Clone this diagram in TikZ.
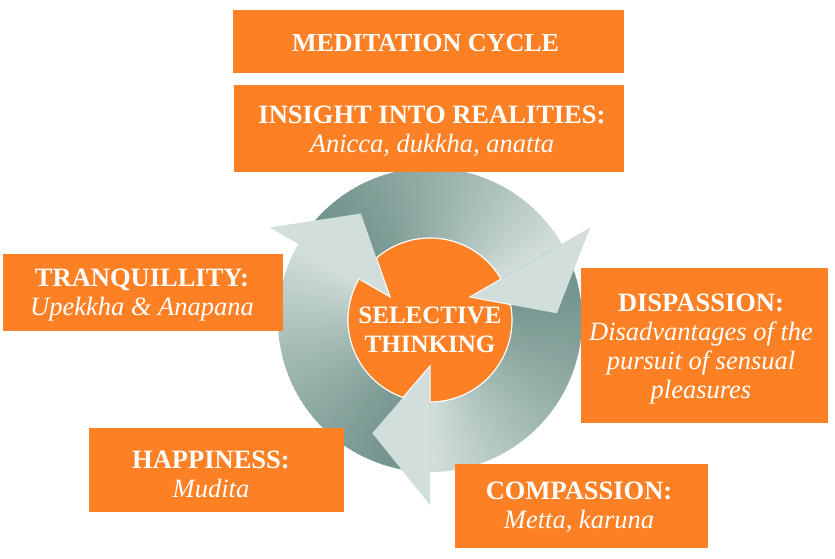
\documentclass[tikz,border=0pt]{standalone}
\usepackage{fontspec}
\setmainfont{Liberation Serif}
\definecolor{tangerine}{HTML}{FD8025}
\definecolor{sagedark}{HTML}{6E9189}
\definecolor{sagelight}{HTML}{D2DEDB}

\begin{document}
\begin{tikzpicture}[x=1pt,y=-1pt,
    panel/.style={fill=tangerine,inner sep=0pt},
    caption/.style={text=white,align=center,anchor=base,
                    font=\fontsize{26.5}{29}\selectfont}]
  \useasboundingbox (0,0) rectangle (835,559);

  % the cycle: three arrow bands, centre disc, arrow heads
  \begin{scope}[shift={(430,320)},yscale=-1]
    \foreach \s in {150,30,-90}{
      \foreach \i in {0,...,59}{
        \pgfmathsetmacro\a{\s-2*\i}
        \pgfmathsetmacro\b{\s-2*\i-3}
        \pgfmathsetmacro\p{100*(\i/59)^1.4}
        \fill[sagelight!\p!sagedark] (\a:82) arc[start angle=\a,end angle=\b,radius=82]
          -- (\b:152) arc[start angle=\b,end angle=\a,radius=152] -- cycle;
      }
    }
    \draw[white,line width=1.2pt,fill=tangerine] (0,0) circle[radius=82];
    \foreach \s in {30,150,270}
      \fill[sagelight] (\s:46) -- (\s:185) -- ({\s-27}:127) -- cycle;
    \begin{scope}
      \clip (0,0) circle[radius=82];
      \foreach \s in {30,150,270}
        \draw[white,line width=1pt] (\s:46) -- (\s:185) -- ({\s-27}:127) -- cycle;
    \end{scope}
  \end{scope}
  \node[caption,font=\fontsize{25}{29}\selectfont\bfseries] (selective) at (430,352)
    {SELECTIVE\\THINKING};

  \node[panel,minimum width=391pt,minimum height=63pt] (title) at (428.5,41.5) {};
  \node[caption,font=\fontsize{26}{29}\selectfont] (titletext) at (425.5,51.7)
    {\textbf{MEDITATION CYCLE}};

  \node[panel,minimum width=390pt,minimum height=87pt] (insight) at (429,128.5) {};
  \node[caption] (insighttext) at (432,153)
    {\textbf{INSIGHT INTO REALITIES:}\\\textit{Anicca, dukkha, anatta}};

  \node[panel,minimum width=280pt,minimum height=77pt] (tranquillity) at (143,292.5) {};
  \node[caption] (tranquillitytext) at (142,315)
    {\textbf{TRANQUILLITY:}\\\textit{Upekkha \& Anapana}};

  \node[panel,minimum width=247pt,minimum height=155pt] (dispassion) at (704.5,345.5) {};
  \node[caption] (dispassiontext) at (701,398)
    {\textbf{DISPASSION:}\\\textit{Disadvantages of the}\\\textit{pursuit of sensual}\\\textit{pleasures}};

  \node[panel,minimum width=255pt,minimum height=84pt] (happiness) at (216.5,470) {};
  \node[caption] (happinesstext) at (211,497) {\textbf{HAPPINESS:}\\\textit{Mudita}};

  \node[panel,minimum width=253pt,minimum height=84pt] (compassion) at (581.5,506) {};
  \node[caption] (compassiontext) at (579,528) {\textbf{COMPASSION:}\\\textit{Metta, karuna}};
\end{tikzpicture}
\end{document}
